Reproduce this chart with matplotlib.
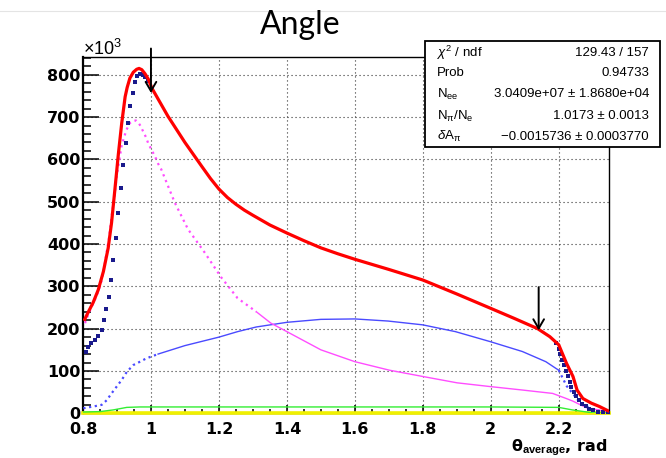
import matplotlib
matplotlib.use('Agg')
import matplotlib.pyplot as plt
from matplotlib.lines import Line2D
from matplotlib.patches import Rectangle
from matplotlib.ticker import FixedLocator, MultipleLocator, FixedFormatter

plt.rcParams['font.family'] = ['Liberation Sans', 'DejaVu Sans']
plt.rcParams['mathtext.fontset'] = 'custom'
plt.rcParams['mathtext.rm'] = 'Liberation Sans'
plt.rcParams['mathtext.it'] = 'Liberation Sans:italic'
plt.rcParams['mathtext.bf'] = 'Liberation Sans:bold'

# ---------------- data (y in units of 10^3) ----------------
title = 'Angle'
x_ticks = [0.8, 1.0, 1.2, 1.4, 1.6, 1.8, 2.0, 2.2]
x_tick_labels = ['0.8', '1', '1.2', '1.4', '1.6', '1.8', '2', '2.2']
y_ticks = [0, 100, 200, 300, 400, 500, 600, 700, 800]
y_tick_labels = ['0', '100', '200', '300', '400', '500', '600', '700', '800']

# total fit (red)
red_x = [0.805, 0.816, 0.830, 0.845, 0.860, 0.874, 0.884, 0.894, 0.904, 0.914,
         0.924, 0.930, 0.938, 0.948, 0.958, 0.965, 0.973, 0.982, 0.992, 1.003,
         1.050, 1.100, 1.150, 1.175, 1.200, 1.225, 1.250, 1.275, 1.300, 1.350,
         1.400, 1.450, 1.500, 1.550, 1.600, 1.700, 1.800, 1.900, 2.000, 2.070,
         2.138, 2.174, 2.200, 2.223, 2.242, 2.254, 2.271, 2.296, 2.320, 2.345]
red_y = [222, 240, 262, 292, 335, 390, 450, 530, 612, 686,
         748, 770, 792, 806, 813, 815, 812, 803, 790, 768,
         702, 640, 583, 555, 530, 510, 494, 480, 468, 445,
         426, 408, 391, 377, 364, 340, 315, 282, 248, 224,
         200, 181, 162, 118, 87, 55, 35, 24, 16, 6]

# data points (navy), visible parts
data_x = [0.809, 0.816, 0.825, 0.835, 0.845, 0.855, 0.862, 0.868, 0.876, 0.882,
          0.889, 0.897, 0.904, 0.911, 0.919, 0.926, 0.932, 0.938, 0.946, 0.953,
          0.960, 0.968, 0.976, 0.982, 0.990,
          2.193, 2.200, 2.205, 2.210, 2.215, 2.221, 2.226, 2.232, 2.237, 2.244,
          2.252, 2.260, 2.270, 2.279, 2.289, 2.301, 2.316, 2.330, 2.345]
data_y = [146, 156, 165, 173, 183, 198, 221, 246, 276, 315,
          362, 414, 473, 532, 587, 638, 687, 726, 756, 784,
          796, 803, 800, 794, 786,
          165, 153, 140, 127, 114, 100, 88, 74, 63, 51,
          41, 31, 23, 17, 11, 7, 4, 2, 1]

# magenta component
mag_x = [0.806, 0.813, 0.821, 0.835, 0.845, 0.855, 0.862, 0.869, 0.877, 0.884,
         0.892, 0.899, 0.907, 0.914, 0.922, 0.928, 0.938, 0.948, 0.956, 0.963,
         0.970, 0.977, 0.985, 0.992, 1.002, 1.012, 1.021, 1.030, 1.070, 1.109,
         1.158, 1.207, 1.255, 1.310, 1.353, 1.400, 1.500, 1.600, 1.701, 1.800,
         1.901, 2.000, 2.093, 2.182, 2.222, 2.241, 2.282, 2.345]
mag_y = [213, 228, 244, 268, 288, 314, 343, 378, 417, 465,
         508, 560, 599, 634, 655, 670, 686, 691, 692, 687,
         678, 666, 653, 638, 622, 607, 590, 577, 498, 435,
         380, 321, 272, 240, 213, 193, 150, 122, 102, 87,
         72, 63, 55, 47, 35, 29, 13, 4]

# blue component
blue_x = [0.801, 0.830, 0.855, 0.870, 0.884, 0.899, 0.914, 0.929, 0.948, 0.968,
          0.987, 1.021, 1.100, 1.200, 1.255, 1.310, 1.400, 1.500, 1.600, 1.698,
          1.800, 1.896, 2.000, 2.093, 2.162, 2.192, 2.200, 2.223, 2.262, 2.300,
          2.347]
blue_y = [12, 16, 20, 31, 47, 63, 79, 98, 114, 122,
          130, 140, 160, 180, 193, 204, 215, 222, 223, 218,
          209, 193, 169, 146, 122, 106, 102, 65, 26, 9,
          3]

# green component
green_x = [0.800, 0.850, 0.889, 0.929, 0.968, 1.200, 1.600, 2.000, 2.200, 2.240, 2.300, 2.348]
green_y = [3, 4, 8, 14, 15, 15, 15, 15, 14, 8, 1, 0.5]

# yellow component
yellow_x = [0.800, 1.600, 2.348]
yellow_y = [0.8, 0.8, 0.8]

# fit range arrows
fit_lo, fit_hi = 1.0, 2.141
arrow_lo_top, arrow_lo_tip = 862, 757
arrow_hi_top, arrow_hi_tip = 298, 196

mag_dot_limit = 1.33
blue_dot_lo, blue_dot_hi = 1.021, 2.2

stat_names = [r'$\chi^{2}$ / ndf', 'Prob', r'N$_{\mathrm{ee}}$',
              r'N$_{\mathrm{\pi}}$/N$_{\mathrm{e}}$', r'$\delta$A$_{\mathrm{\pi}}$']
stat_values = ['129.43 / 157', '0.94733', '3.0409e+07 ± 1.8680e+04',
               '1.0173 ± 0.0013', '\u22120.0015736 ± 0.0003770']

# ---------------- figure ----------------
W, H = 666, 458
fig = plt.figure(figsize=(W / 100, H / 100), dpi=100)
ax = fig.add_axes([83 / W, 1 - 413.3 / H, (609 - 83) / W, (413.3 - 57) / H])
ax.set_xlim(0.8, 2.348)
ax.set_ylim(0, 842)

grid_kw = dict(color='#333333', lw=0.8, linestyle=(0, (1, 2.6)))
ax.grid(True, which='major', **grid_kw)
ax.set_axisbelow(True)

# yellow & green
ax.plot(yellow_x, yellow_y, color='#f0f000', lw=2.6, zorder=3, clip_on=False)
ax.plot(green_x, green_y, color='#33ee33', lw=1.0, zorder=3)

# blue component: dotted where steep
bl = [(x, y) for x, y in zip(blue_x, blue_y) if x <= blue_dot_lo]
bm = [(x, y) for x, y in zip(blue_x, blue_y) if blue_dot_lo <= x <= blue_dot_hi]
bh = [(x, y) for x, y in zip(blue_x, blue_y) if x >= blue_dot_hi]
for seg, ls, lw in [(bl, (0, (1, 1.6)), 1.6), (bm, '-', 1.0), (bh, (0, (1, 1.6)), 1.6)]:
    ax.plot([p[0] for p in seg], [p[1] for p in seg], color='#4a4aff', lw=lw,
            linestyle=ls, zorder=4)

# magenta component
ml = [(x, y) for x, y in zip(mag_x, mag_y) if x <= mag_dot_limit]
mh = [(x, y) for x, y in zip(mag_x, mag_y) if x >= 1.31]
ax.plot([p[0] for p in ml], [p[1] for p in ml], color='#ff4dff', lw=1.6,
        linestyle=(0, (1, 1.8)), zorder=4)
ax.plot([p[0] for p in mh], [p[1] for p in mh], color='#ff4dff', lw=1.0, zorder=4)

# data points
ax.plot(data_x, data_y, linestyle='none', marker='s', markersize=2.3,
        color='#1a1a8c', markeredgewidth=0, zorder=5)

# total
ax.plot(red_x, red_y, color='#ff0000', lw=2.3, zorder=6, solid_joinstyle='round')

# arrows
for xa, y0, y1 in [(fit_lo, arrow_lo_top, arrow_lo_tip), (fit_hi, arrow_hi_top, arrow_hi_tip)]:
    ax.annotate('', xy=(xa, y1), xytext=(xa, y0), annotation_clip=False,
                arrowprops=dict(arrowstyle='->,head_length=0.55,head_width=0.32',
                                lw=1.4, color='black', mutation_scale=12,
                                shrinkA=0, shrinkB=0), zorder=7)

# ticks
ax.xaxis.set_major_locator(FixedLocator(x_ticks))
ax.xaxis.set_major_formatter(FixedFormatter(x_tick_labels))
ax.xaxis.set_minor_locator(MultipleLocator(0.05))
ax.yaxis.set_major_locator(FixedLocator(y_ticks))
ax.yaxis.set_major_formatter(FixedFormatter(y_tick_labels))
ax.yaxis.set_minor_locator(MultipleLocator(20))
ax.tick_params(axis='both', which='both', direction='in', top=False, right=False,
               color='black', width=1.1)
ax.tick_params(axis='y', which='major', length=11.5, pad=2)
ax.tick_params(axis='y', which='minor', length=5.8)
ax.tick_params(axis='x', which='major', length=5.8, pad=6)
ax.tick_params(axis='x', which='minor', length=2.9)
for lab in ax.get_xticklabels() + ax.get_yticklabels():
    lab.set_fontfamily('DejaVu Sans')
    lab.set_fontweight('bold')
    lab.set_fontsize(11.5)

for side in ['top', 'right', 'bottom']:
    ax.spines[side].set_linewidth(1.0)
ax.spines['left'].set_linewidth(1.6)

# multiplier
fig.text(83 / W, 1 - 55 / H, '×10$^{3}$', fontsize=13, ha='left', va='baseline')

# x label
fig.text(607 / W, 1 - 451 / H, 'θ$_{\\mathbf{average}}$, rad', fontsize=11.5,
         family='DejaVu Sans', fontweight='bold', ha='right', va='baseline')

# title
fig.text(300 / W, 1 - 34 / H, title, fontsize=23, family='Lato', ha='center', va='baseline')
fig.add_artist(Line2D([0, 1], [1 - 11 / H, 1 - 11 / H], color='#e4e4e4', lw=0.8))

# stat box
bx0, bx1, by0, by1 = 425, 660, 41, 147
fig.add_artist(Rectangle((bx0 / W, 1 - by1 / H), (bx1 - bx0) / W, (by1 - by0) / H,
                         facecolor='white', edgecolor='black', lw=1.3, zorder=10))
row_y = [52.7, 73.3, 94.3, 116, 136.7]
for name, val, yy in zip(stat_names, stat_values, row_y):
    fig.text(437 / W, 1 - yy / H, name, fontsize=9.5, ha='left', va='center', zorder=11)
    fig.text(649 / W, 1 - yy / H, val, fontsize=9.5, ha='right', va='center', zorder=11)

fig.savefig('out.png', dpi=100)
